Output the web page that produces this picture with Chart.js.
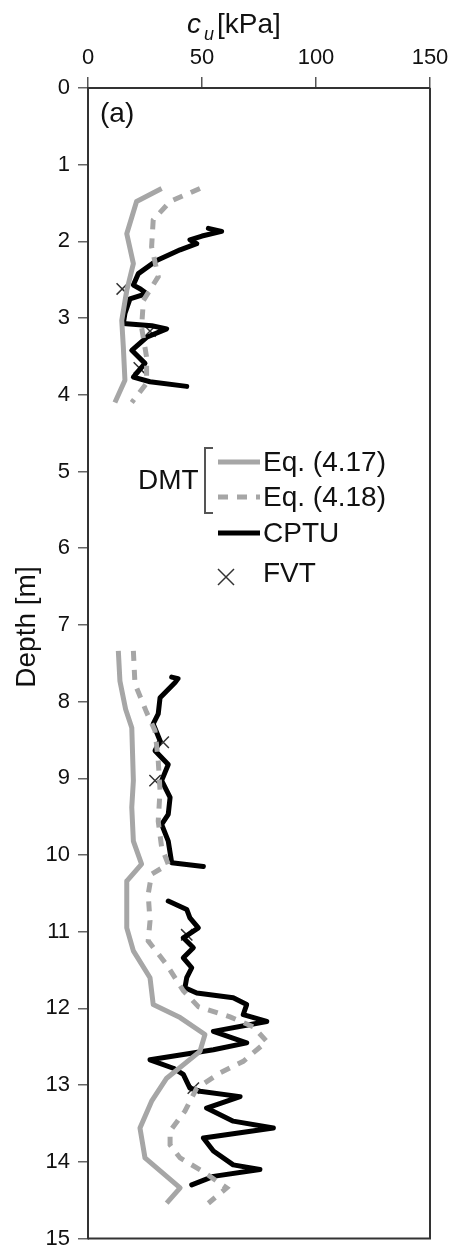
<!DOCTYPE html>
<html>
<head>
<meta charset="utf-8">
<script src="https://cdn.jsdelivr.net/npm/chart.js@4.4.1/dist/chart.umd.min.js"></script>
<style>
  html, body { margin: 0; padding: 0; background: #fff; }
  #wrap { width: 453px; height: 1248px; }
</style>
</head>
<body>
<div id="wrap"><canvas id="chart" width="453" height="1248"></canvas></div>
<script>
// depth [m] and cu [kPa]; null separates the two measured intervals
const eq417Depth = [1.31, 1.48, 1.90, 2.29, 2.64, 3.03, 3.38, 3.81, 4.10, null,
  7.34, 7.73, 8.10, 8.34, 9.03, 9.38, 9.82, 10.12, 10.34, 10.95, 11.25, 11.60, 11.95,
  12.12, 12.34, 12.56, 12.91, 13.21, 13.56, 13.95, 14.34, 14.54];
const eq417Cu = [32.3, 21.3, 17.0, 19.9, 17.0, 14.8, 15.5, 16.2, 11.8, null,
  13.3, 14.0, 16.5, 19.2, 19.9, 19.2, 19.9, 23.5, 17.0, 17.0, 19.9, 27.2, 28.6,
  40.4, 51.3, 49.1, 34.5, 27.9, 22.8, 25.0, 40.4, 34.5];

const eq418Depth = [1.31, 1.48, 1.72, 2.07, 2.46, 2.77, 3.12, 3.51, 3.85, 4.10, null,
  7.34, 7.77, 8.14, 8.38, 8.77, 9.16, 9.56, 9.90, 10.12, 10.25, 10.51, 10.86, 11.12,
  11.43, 11.77, 11.98, 12.11, 12.24, 12.43, 12.69, 12.84, 13.04, 13.34, 13.60, 13.78,
  13.95, 14.13, 14.34, 14.54];
const eq418Cu = [49.1, 36.0, 28.6, 27.9, 30.8, 24.3, 23.5, 25.7, 25.7, 19.2, null,
  19.9, 20.6, 25.7, 29.4, 30.8, 31.6, 30.8, 32.3, 35.2, 27.9, 26.4, 27.2, 26.4,
  34.5, 41.8, 48.5, 62.3, 72.5, 78.4, 68.1, 57.9, 47.7, 42.5, 36.0, 36.0,
  40.4, 50.6, 60.8, 52.8];

const cptuDepth = [1.83, 1.87, 1.93, 1.98, 2.03, 2.11, 2.25, 2.42, 2.57, 2.62, 2.68, 2.75,
  2.94, 3.07, 3.10, 3.14, 3.25, 3.42, 3.59, 3.77, 3.83, 3.89, null,
  7.68, 7.70, 7.75, 7.95, 8.16, 8.29, 8.51, 8.64, 8.82, 9.03, 9.25, 9.47, 9.60, 9.82,
  10.10, 10.15, null,
  10.60, 10.71, 10.82, 10.95, 11.08, 11.21, 11.34, 11.47, 11.60, 11.73, 11.80, 11.86,
  11.95, 12.08, 12.17, 12.30, 12.45, 12.54, 12.67, 12.78, 12.86, 13.04, 13.08, 13.15,
  13.30, 13.47, 13.56, 13.69, 13.86, 14.04, 14.10, 14.19, 14.30];
const cptuCu = [52.8, 58.6, 50.0, 44.7, 47.7, 40.4, 30.1, 22.1, 19.9, 23.0, 25.7, 18.4,
  16.2, 15.5, 28.0, 34.5, 25.7, 19.2, 25.0, 19.9, 27.2, 43.3, null,
  36.7, 39.5, 38.2, 31.6, 30.8, 28.6, 31.6, 29.4, 35.2, 32.3, 36.0, 35.2, 32.3, 35.2,
  36.7, 50.6, null,
  35.2, 43.3, 44.7, 48.4, 41.8, 46.2, 41.8, 45.5, 43.3, 42.5, 47.7, 63.7,
  69.6, 68.1, 78.4, 55.0, 69.6, 55.0, 27.2, 37.4, 41.8, 44.7, 49.1, 66.7,
  52.0, 63.7, 81.3, 50.6, 55.0, 63.7, 75.4, 55.0, 45.5];

const fvtDepth = [2.62, 3.17, 3.65, 8.53, 9.03, 11.04, 13.04];
const fvtCu = [15.0, 27.2, 22.5, 33.0, 29.4, 43.3, 46.2];

const xTicks = [0, 50, 100, 150];
const depthTicks = [0, 1, 2, 3, 4, 5, 6, 7, 8, 9, 10, 11, 12, 13, 14, 15];

const FONT = '"Liberation Sans", Arial, sans-serif';
const GREY = '#a6a6a6';

function toPoints(depth, cu) {
  return depth.map((d, i) => d === null ? { x: null, y: null } : { x: cu[i], y: d });
}

const frame = {
  id: 'frame',
  afterDraw(chart) {
    const { ctx, chartArea: a } = chart;
    ctx.save();
    ctx.strokeStyle = '#333';
    ctx.lineWidth = 2;
    ctx.beginPath();
    ctx.moveTo(a.left, a.bottom);
    ctx.lineTo(a.right, a.bottom);
    ctx.lineTo(a.right, a.top);
    ctx.stroke();

    ctx.fillStyle = '#111';
    ctx.textBaseline = 'alphabetic';
    ctx.textAlign = 'left';
    // top axis title: c_u [kPa]
    ctx.font = 'italic 28px ' + FONT;
    ctx.fillText('c', a.left + 99, 33);
    ctx.font = 'italic 18px ' + FONT;
    ctx.fillText('u', a.left + 116, 40);
    ctx.font = '28px ' + FONT;
    ctx.fillText('[kPa]', a.left + 129, 33);

    // panel label
    ctx.textBaseline = 'middle';
    ctx.fillText('(a)', a.left + 12, 114);

    // depth title
    ctx.save();
    ctx.translate(27, 627);
    ctx.rotate(-Math.PI / 2);
    ctx.textAlign = 'center';
    ctx.fillText('Depth [m]', 0, 0);
    ctx.restore();

    // legend
    const ds = chart.data.datasets;
    const x0 = 218, x1 = 260, tx = 263;
    const rows = [462, 497, 533];
    ctx.lineCap = 'butt';
    [0, 1, 2].forEach((k, i) => {
      ctx.strokeStyle = ds[k].borderColor;
      ctx.lineWidth = ds[k].borderWidth;
      ctx.setLineDash(ds[k].borderDash || []);
      ctx.beginPath();
      ctx.moveTo(x0, rows[i]);
      ctx.lineTo(x1, rows[i]);
      ctx.stroke();
      ctx.setLineDash([]);
      ctx.fillText(ds[k].label, tx, rows[i] + 1);
    });
    // FVT marker
    ctx.strokeStyle = ds[3].borderColor;
    ctx.lineWidth = 1.5;
    ctx.beginPath();
    ctx.moveTo(218, 569); ctx.lineTo(234, 585);
    ctx.moveTo(234, 569); ctx.lineTo(218, 585);
    ctx.stroke();
    ctx.fillText(ds[3].label, tx, 574);

    // DMT bracket
    ctx.fillText('DMT', 138, 481);
    ctx.strokeStyle = '#555';
    ctx.lineWidth = 2;
    ctx.beginPath();
    ctx.moveTo(213, 448); ctx.lineTo(205, 448); ctx.lineTo(205, 513); ctx.lineTo(213, 513);
    ctx.stroke();
    ctx.restore();
  }
};

new Chart(document.getElementById('chart'), {
  type: 'scatter',
  data: {
    datasets: [
      {
        label: 'Eq. (4.17)',
        data: toPoints(eq417Depth, eq417Cu),
        showLine: true, borderColor: GREY, borderWidth: 5,
        pointRadius: 0, borderJoinStyle: 'round', borderCapStyle: 'butt'
      },
      {
        label: 'Eq. (4.18)',
        data: toPoints(eq418Depth, eq418Cu),
        showLine: true, borderColor: GREY, borderWidth: 5, borderDash: [10, 9],
        pointRadius: 0, borderJoinStyle: 'miter', borderCapStyle: 'butt'
      },
      {
        label: 'CPTU',
        data: toPoints(cptuDepth, cptuCu),
        showLine: true, borderColor: '#000', borderWidth: 5,
        pointRadius: 0, borderJoinStyle: 'round', borderCapStyle: 'round'
      },
      {
        label: 'FVT',
        data: toPoints(fvtDepth, fvtCu),
        showLine: false, borderColor: '#333', backgroundColor: '#333',
        pointStyle: 'crossRot', pointRadius: 8, pointBorderWidth: 1.5
      }
    ]
  },
  options: {
    responsive: false,
    animation: false,
    layout: { padding: { left: 0, top: 0, right: 23, bottom: 7 } },
    plugins: { legend: { display: false }, tooltip: { enabled: false } },
    scales: {
      x: {
        type: 'linear', position: 'top', min: 0, max: 150,
        afterBuildTicks: s => { s.ticks = xTicks.map(v => ({ value: v })); },
        afterFit: s => { s.height = 88; s.paddingLeft = 0; s.paddingRight = 0; },
        grid: { drawOnChartArea: false, drawTicks: true, tickLength: 11, color: '#555', lineWidth: 1.5 },
        border: { display: true, color: '#333', width: 2 },
        ticks: { color: '#111', font: { family: FONT, size: 22 }, padding: 6, maxRotation: 0 }
      },
      y: {
        type: 'linear', position: 'left', reverse: true, min: 0, max: 15,
        afterBuildTicks: s => { s.ticks = depthTicks.map(v => ({ value: v })); },
        afterFit: s => { s.width = 88; s.paddingTop = 0; s.paddingBottom = 0; },
        grid: { drawOnChartArea: false, drawTicks: true, tickLength: 10, color: '#666', lineWidth: 1.5 },
        border: { display: true, color: '#333', width: 2 },
        ticks: { color: '#111', font: { family: FONT, size: 22 }, padding: 8 }
      }
    }
  },
  plugins: [frame]
});
</script>
</body>
</html>
